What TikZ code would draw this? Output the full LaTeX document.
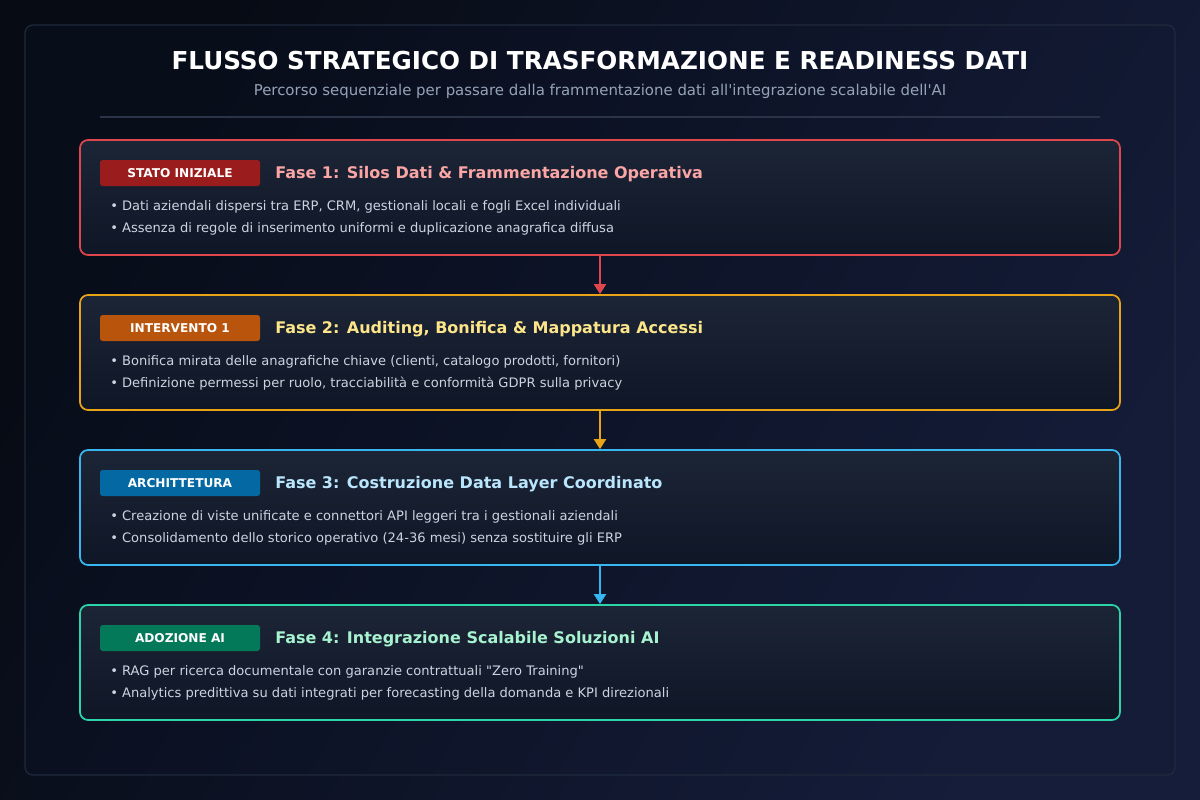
\documentclass[tikz,border=0pt]{standalone}
\usepackage{fontspec}
\setmainfont{DejaVu Sans}[Ligatures=TeXOff]
\usetikzlibrary{arrows.meta,positioning}
\definecolor{bgA}{HTML}{070B14}
\definecolor{bgB}{HTML}{151D3B}
\definecolor{panelA}{HTML}{080D1A}
\definecolor{panelB}{HTML}{141C38}
\definecolor{panelLine}{HTML}{1F2A3C}
\definecolor{sepLine}{HTML}{2A3448}
\definecolor{subTxt}{HTML}{94A3B8}
\definecolor{bulTxt}{HTML}{CBD5E1}
\definecolor{boxTop}{HTML}{1C2536}
\definecolor{boxBot}{HTML}{0F1626}
\definecolor{cRed}{HTML}{E0474C}
\definecolor{cOra}{HTML}{E8A317}
\definecolor{cBlu}{HTML}{38B6F0}
\definecolor{cGrn}{HTML}{2DD4A8}
\definecolor{bRed}{HTML}{9B1C1C}
\definecolor{bOra}{HTML}{B8540C}
\definecolor{bBlu}{HTML}{0469A3}
\definecolor{bGrn}{HTML}{04795A}
\definecolor{hRed}{HTML}{FCA5A5}
\definecolor{hOra}{HTML}{FDE68A}
\definecolor{hBlu}{HTML}{BAE6FD}
\definecolor{hGrn}{HTML}{A7F3D0}
\tikzset{
  phasebox/.style={rectangle, rounded corners=6pt, line width=1.3pt, top color=boxTop, bottom color=boxBot, minimum width=780pt, minimum height=86.25pt, inner sep=0pt},
  badge/.style={rectangle, rounded corners=2pt, minimum width=120pt, minimum height=19.5pt, inner sep=0pt, text=white, font=\fontsize{9.1}{10}\selectfont\bfseries},
  heading/.style={anchor=base west, inner sep=0pt, font=\fontsize{12}{14}\selectfont\bfseries},
  bullet/.style={anchor=base west, inner sep=0pt, text=bulTxt, font=\fontsize{9.8}{11}\selectfont},
  flow/.style={line width=1.5pt, -{Triangle[width=9pt,length=7.5pt]}, shorten >=0pt},
}
\begin{document}
\begin{tikzpicture}[x=0.75pt,y=-0.75pt]
\useasboundingbox (0,0) rectangle (1200,800);
\shade[shading=axis, left color=bgA, right color=bgB, shading angle=60] (0,0) rectangle (1200,800);
\node[rectangle, rounded corners=6pt, draw=panelLine, line width=0.9pt, left color=panelA, right color=panelB, shading angle=60, minimum width=862.5pt, minimum height=562.5pt, inner sep=0pt] (panel) at (600,400) {};
\node[anchor=base, inner sep=0pt, text=white, font=\fontsize{18.5}{20}\selectfont\bfseries] (title) at (600,69) {FLUSSO STRATEGICO DI TRASFORMAZIONE E READINESS DATI};
\node[anchor=base, inner sep=0pt, text=subTxt, font=\fontsize{11.2}{12}\selectfont] (sub) at (600,95) {Percorso sequenziale per passare dalla frammentazione dati all'integrazione scalabile dell'AI};
\coordinate (sepL) at (100,117);
\coordinate (sepR) at (1100,117);
\draw[sepLine, line width=1pt] (sepL) -- (sepR);

% Phase 1
\node[phasebox, draw=cRed] (p1) at (600,197.5) {};
\node[badge, fill=bRed] (b1) at (180,173) {STATO INIZIALE};
\node[heading, text=hRed] (h1) at (275,178) {Fase 1: Silos Dati \& Frammentazione Operativa};
\node[bullet] (l1a) at (110,210) {• Dati aziendali dispersi tra ERP, CRM, gestionali locali e fogli Excel individuali};
\node[bullet] (l1b) at (110,232) {• Assenza di regole di inserimento uniformi e duplicazione anagrafica diffusa};

% Phase 2
\node[phasebox, draw=cOra] (p2) at (600,352.5) {};
\node[badge, fill=bOra] (b2) at (180,328) {INTERVENTO 1};
\node[heading, text=hOra] (h2) at (275,333) {Fase 2: Auditing, Bonifica \& Mappatura Accessi};
\node[bullet] (l2a) at (110,365) {• Bonifica mirata delle anagrafiche chiave (clienti, catalogo prodotti, fornitori)};
\node[bullet] (l2b) at (110,387) {• Definizione permessi per ruolo, tracciabilità e conformità GDPR sulla privacy};

% Phase 3
\node[phasebox, draw=cBlu] (p3) at (600,507.5) {};
\node[badge, fill=bBlu] (b3) at (180,483) {ARCHITTETURA};
\node[heading, text=hBlu] (h3) at (275,488) {Fase 3: Costruzione Data Layer Coordinato};
\node[bullet] (l3a) at (110,520) {• Creazione di viste unificate e connettori API leggeri tra i gestionali aziendali};
\node[bullet] (l3b) at (110,542) {• Consolidamento dello storico operativo (24-36 mesi) senza sostituire gli ERP};

% Phase 4
\node[phasebox, draw=cGrn] (p4) at (600,662.5) {};
\node[badge, fill=bGrn] (b4) at (180,638) {ADOZIONE AI};
\node[heading, text=hGrn] (h4) at (275,643) {Fase 4: Integrazione Scalabile Soluzioni AI};
\node[bullet] (l4a) at (110,675) {• RAG per ricerca documentale con garanzie contrattuali "Zero Training"};
\node[bullet] (l4b) at (110,697) {• Analytics predittiva su dati integrati per forecasting della domanda e KPI direzionali};

\draw[flow, cRed] (p1.south) -- (p2.north);
\draw[flow, cOra] (p2.south) -- (p3.north);
\draw[flow, cBlu] (p3.south) -- (p4.north);
\end{tikzpicture}
\end{document}
